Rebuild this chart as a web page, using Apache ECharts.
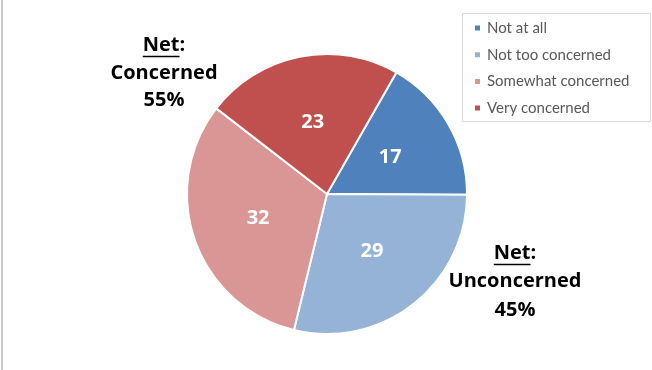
<!DOCTYPE html>
<html>
<head>
<meta charset="utf-8">
<script src="https://cdn.jsdelivr.net/npm/echarts@6/dist/echarts.min.js"></script>
<style>
  html, body { margin: 0; padding: 0; background: #ffffff; }
  #chart { width: 652px; height: 370px; }
</style>
</head>
<body>
<div id="chart"></div>
<script>
// Survey responses (percent)
const categories = ['Not at all', 'Not too concerned', 'Somewhat concerned', 'Very concerned'];
const values = [17, 29, 32, 23];
const colors = ['#4F81BD', '#95B3D7', '#D99694', '#C0504D'];

// Net summary callouts
const netConcerned = ['Net:', 'Concerned', '55%'];
const netUnconcerned = ['Net:', 'Unconcerned', '45%'];

const LEGEND_FONT = 'Lato, "Open Sans", sans-serif';
const BOLD_FONT = '"Open Sans", Lato, sans-serif';
const NET_FONT = 'bold 20px ' + BOLD_FONT;

const chart = echarts.init(document.getElementById('chart'), null, { renderer: 'canvas' });

const measureCtx = document.createElement('canvas').getContext('2d');
function textWidth(str, font) {
  measureCtx.font = font;
  return measureCtx.measureText(str).width;
}

// Three stacked centred lines; the word before the colon on the first line is underlined
function netBlock(lines, cx, baselines) {
  const els = lines.map((t, i) => ({
    type: 'text',
    x: cx,
    y: baselines[i],
    style: {
      text: t,
      fill: '#000000',
      font: NET_FONT,
      textAlign: 'center',
      textVerticalAlign: 'bottom'
    },
    z: 10
  }));
  const head = lines[0];
  const full = textWidth(head, NET_FONT);
  const word = textWidth(head.replace(':', ''), NET_FONT);
  const x0 = cx - full / 2;
  els.push({
    type: 'line',
    shape: { x1: x0, y1: baselines[0] + 1.5, x2: x0 + word, y2: baselines[0] + 1.5 },
    style: { stroke: '#000000', lineWidth: 1.5 },
    z: 10
  });
  return els;
}

const option = {
  animation: false,
  backgroundColor: '#ffffff',
  color: colors,
  legend: {
    orient: 'vertical',
    left: 468,
    top: 15,
    icon: 'rect',
    itemWidth: 7,
    itemHeight: 7,
    itemGap: 10.7,
    data: categories,
    textStyle: {
      color: '#595959',
      fontFamily: LEGEND_FONT,
      fontSize: 15,
      lineHeight: 16,
      padding: [0, 0, 0, 1]
    }
  },
  series: [{
    type: 'pie',
    center: [327, 194],
    radius: [0, 140],
    startAngle: 60.3,
    clockwise: true,
    avoidLabelOverlap: false,
    itemStyle: { borderColor: '#ffffff', borderWidth: 2 },
    label: {
      show: true,
      position: 'inside',
      formatter: '{c}',
      color: '#ffffff',
      fontFamily: BOLD_FONT,
      fontWeight: 'bold',
      fontSize: 20
    },
    labelLine: { show: false },
    emphasis: { disabled: true },
    data: categories.map((name, i) => ({ name: name, value: values[i] }))
  }],
  graphic: [
    // left frame edge
    { type: 'rect', shape: { x: 1, y: 0, width: 2, height: 370 }, style: { fill: '#c8c8c8' } },
    // legend frame
    { type: 'rect', shape: { x: 462.5, y: 13.5, width: 188, height: 108 },
      style: { fill: 'none', stroke: '#d9d9d9', lineWidth: 1 } },
    ...netBlock(netConcerned, 164, [55, 83, 110]),
    ...netBlock(netUnconcerned, 515, [263, 291, 320])
  ]
};

chart.setOption(option);
</script>
</body>
</html>
